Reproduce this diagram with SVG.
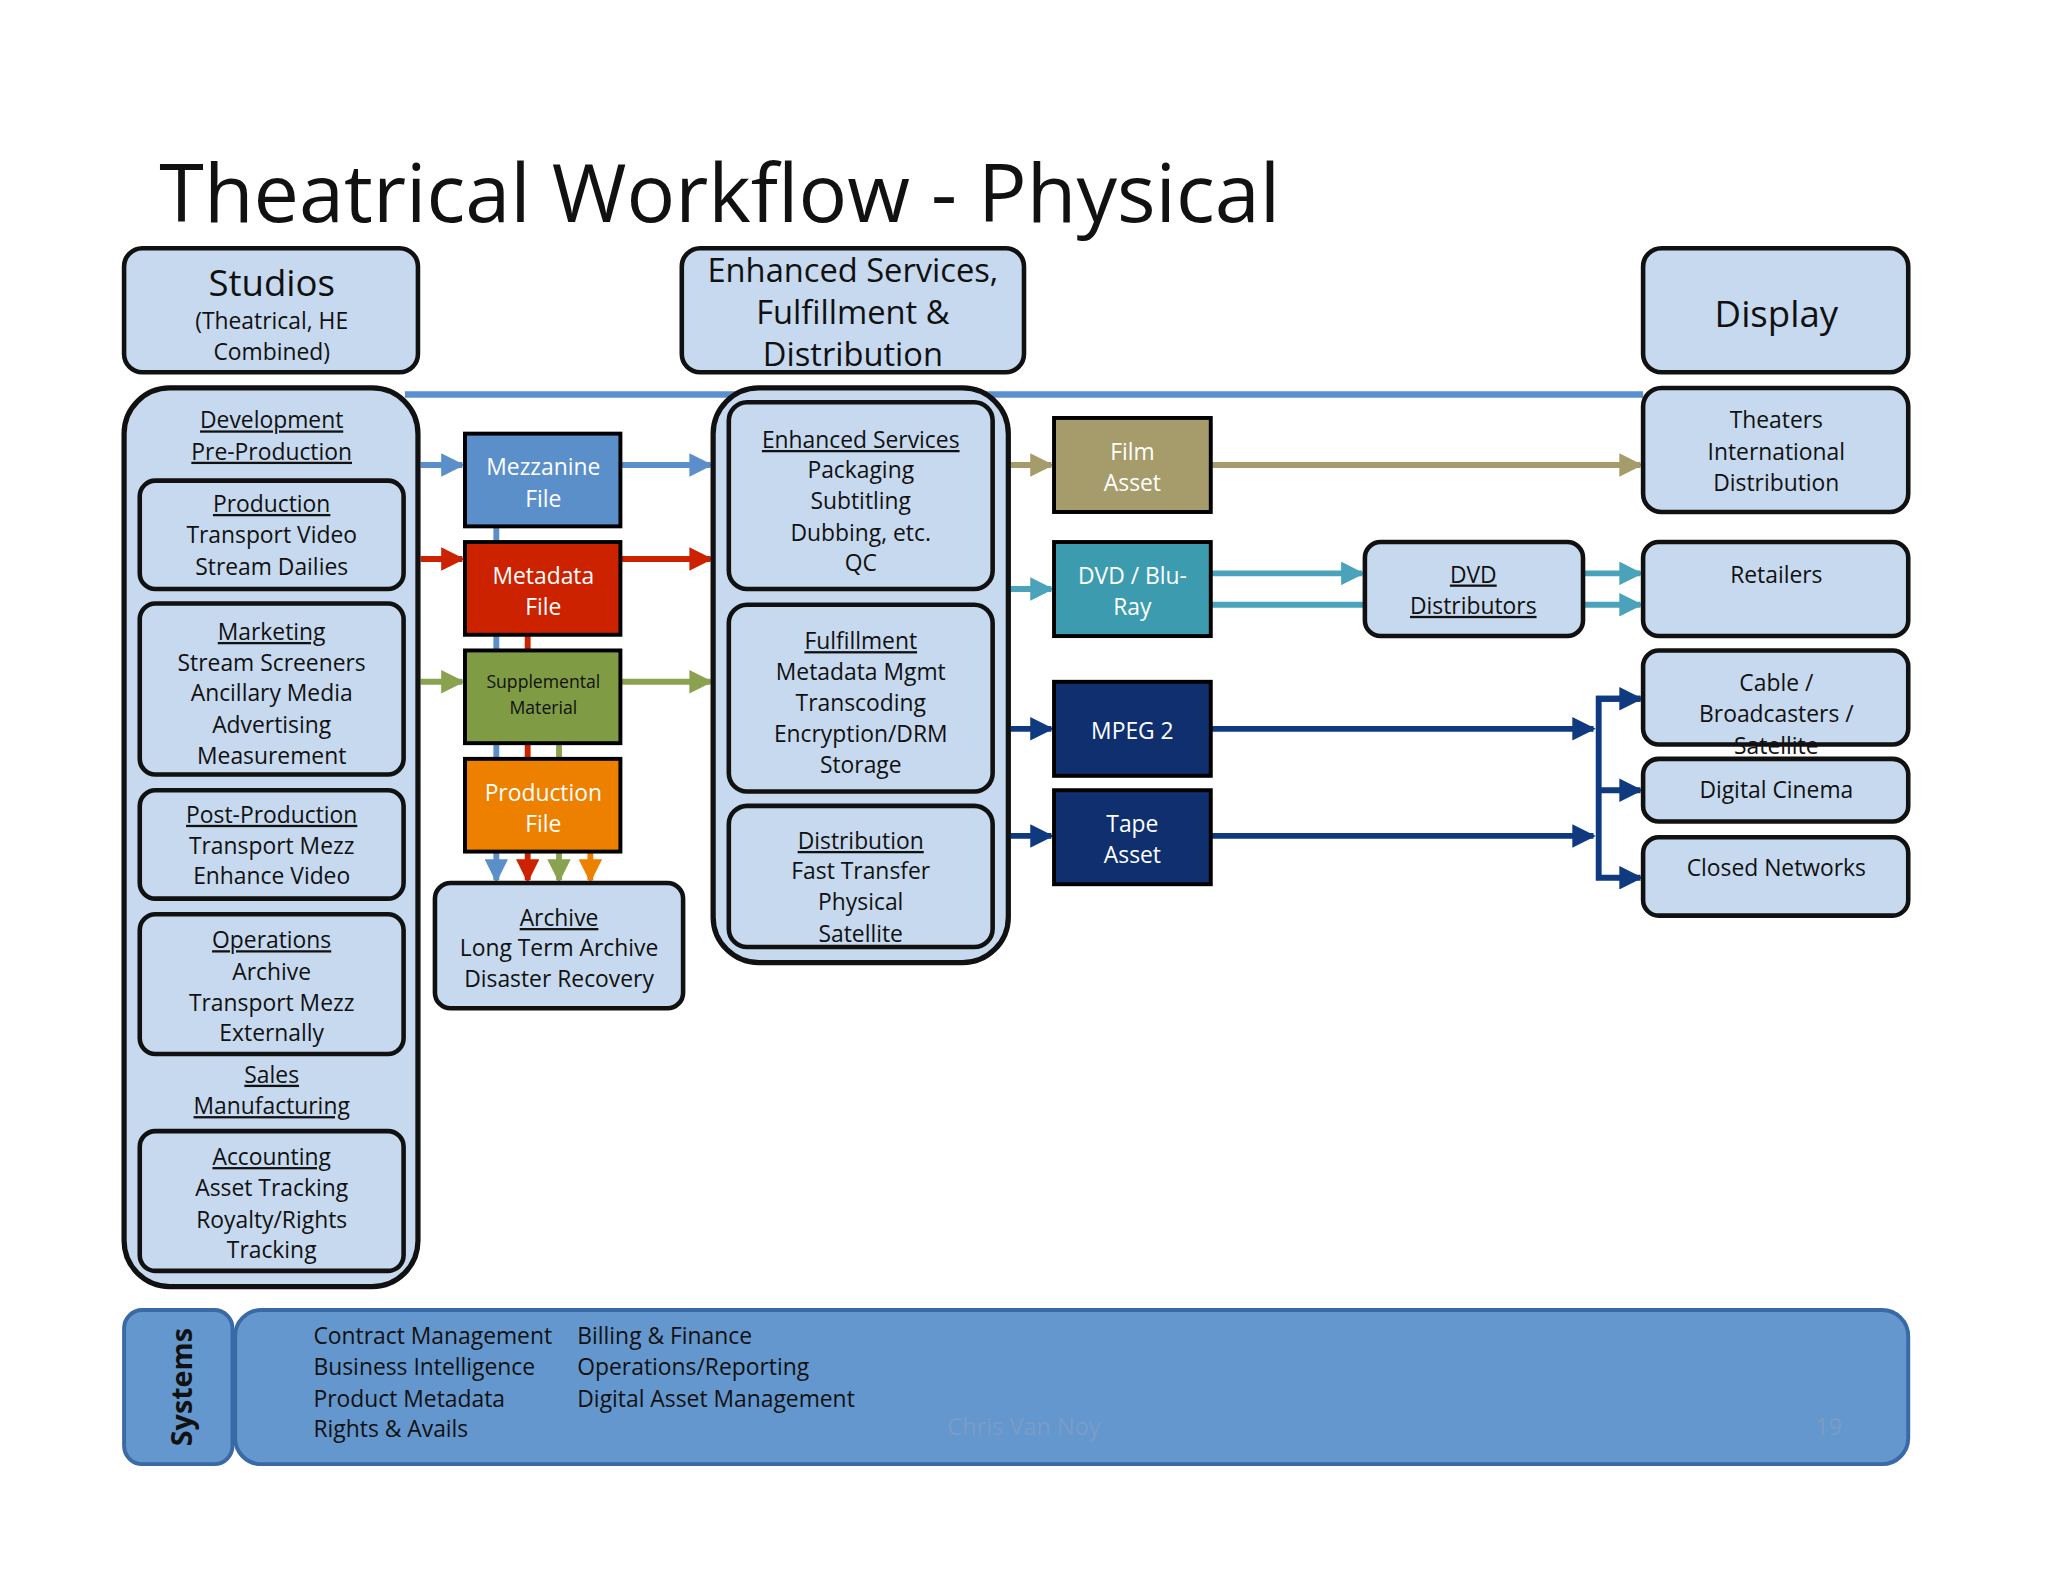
<svg xmlns="http://www.w3.org/2000/svg" width="2048" height="1582" viewBox="0 0 2048 1582">
<style>
text{font-family:"Open Sans","Noto Sans",sans-serif;fill:#111;text-anchor:middle}
.b{fill:#c6d9ee;stroke:#111;stroke-width:3.5}
.big{fill:#c6d9ee;stroke:#111;stroke-width:4}
.s{font-size:17.5px}
.u{text-decoration:underline}
.w{fill:#fff}
.c{stroke:#000;stroke-width:3}
.l{fill:none;stroke-width:4.5}
.sys{font-size:17.5px;text-anchor:start}
</style>
<defs>
<marker id="ab" viewBox="0 0 10 10" refX="9" refY="5" markerWidth="4" markerHeight="4" orient="auto"><path d="M0,0L10,5L0,10z" fill="#5b8fc9"/></marker>
<marker id="ar" viewBox="0 0 10 10" refX="9" refY="5" markerWidth="4" markerHeight="4" orient="auto"><path d="M0,0L10,5L0,10z" fill="#cc2200"/></marker>
<marker id="ag" viewBox="0 0 10 10" refX="9" refY="5" markerWidth="4" markerHeight="4" orient="auto"><path d="M0,0L10,5L0,10z" fill="#8aa24f"/></marker>
<marker id="ao" viewBox="0 0 10 10" refX="9" refY="5" markerWidth="4" markerHeight="4" orient="auto"><path d="M0,0L10,5L0,10z" fill="#ee8000"/></marker>
<marker id="ak" viewBox="0 0 10 10" refX="9" refY="5" markerWidth="4" markerHeight="4" orient="auto"><path d="M0,0L10,5L0,10z" fill="#a69b6a"/></marker>
<marker id="at" viewBox="0 0 10 10" refX="9" refY="5" markerWidth="4" markerHeight="4" orient="auto"><path d="M0,0L10,5L0,10z" fill="#4aa3bb"/></marker>
<marker id="an" viewBox="0 0 10 10" refX="9" refY="5" markerWidth="4" markerHeight="4" orient="auto"><path d="M0,0L10,5L0,10z" fill="#0f3a80"/></marker>
</defs>
<rect width="2048" height="1582" fill="#fff"/>
<g transform="scale(1.30612)">
<text x="122" y="170" font-size="62" style="text-anchor:start">Theatrical Workflow - Physical</text>

<g id="connectors">
<line x1="310" y1="302" x2="1258" y2="302" stroke="#5a8fd0" stroke-width="5"/>
<line x1="322" y1="356" x2="354" y2="356" class="l" stroke="#5b8fc9" marker-end="url(#ab)"/>
<line x1="322" y1="428" x2="354" y2="428" class="l" stroke="#cc2200" marker-end="url(#ar)"/>
<line x1="322" y1="522" x2="354" y2="522" class="l" stroke="#8aa24f" marker-end="url(#ag)"/>
<line x1="476" y1="356" x2="544" y2="356" class="l" stroke="#5b8fc9" marker-end="url(#ab)"/>
<line x1="476" y1="428" x2="544" y2="428" class="l" stroke="#cc2200" marker-end="url(#ar)"/>
<line x1="476" y1="522" x2="544" y2="522" class="l" stroke="#8aa24f" marker-end="url(#ag)"/>
<line x1="380" y1="403" x2="380" y2="674" class="l" stroke="#5b8fc9" marker-end="url(#ab)"/>
<line x1="404" y1="486" x2="404" y2="674" class="l" stroke="#cc2200" marker-end="url(#ar)"/>
<line x1="428" y1="569" x2="428" y2="674" class="l" stroke="#8aa24f" marker-end="url(#ag)"/>
<line x1="452" y1="652" x2="452" y2="674" class="l" stroke="#ee8000" marker-end="url(#ao)"/>
<line x1="774" y1="356" x2="805" y2="356" class="l" stroke="#a69b6a" marker-end="url(#ak)"/>
<line x1="774" y1="451" x2="805" y2="451" class="l" stroke="#4aa3bb" marker-end="url(#at)"/>
<line x1="774" y1="558" x2="805" y2="558" class="l" stroke="#0f3a80" marker-end="url(#an)"/>
<line x1="774" y1="640" x2="805" y2="640" class="l" stroke="#0f3a80" marker-end="url(#an)"/>
<line x1="928" y1="356" x2="1256" y2="356" class="l" stroke="#a69b6a" marker-end="url(#ak)"/>
<line x1="928" y1="439" x2="1043" y2="439" class="l" stroke="#4aa3bb" marker-end="url(#at)"/>
<line x1="928" y1="463" x2="1045" y2="463" class="l" stroke="#4aa3bb"/>
<line x1="1213" y1="439" x2="1256" y2="439" class="l" stroke="#4aa3bb" marker-end="url(#at)"/>
<line x1="1213" y1="463" x2="1256" y2="463" class="l" stroke="#4aa3bb" marker-end="url(#at)"/>
<line x1="928" y1="558" x2="1220" y2="558" class="l" stroke="#0f3a80" marker-end="url(#an)"/>
<line x1="928" y1="640" x2="1220" y2="640" class="l" stroke="#0f3a80" marker-end="url(#an)"/>
<polyline points="1256,535 1224,535 1224,672 1256,672" class="l" stroke="#0f3a80" marker-end="url(#an)"/>
<line x1="1222" y1="535" x2="1256" y2="535" class="l" stroke="#0f3a80" marker-end="url(#an)"/>
<line x1="1224" y1="605" x2="1256" y2="605" class="l" stroke="#0f3a80" marker-end="url(#an)"/>
</g>

<g id="studios"><rect x="95" y="190" width="225" height="95" rx="14" class="b"/>
<text x="208" y="227" font-size="28">Studios</text><text x="208" y="252" class="s">(Theatrical, HE</text><text x="208" y="276" class="s">Combined)</text></g>
<g id="enhanced-head"><rect x="522" y="190" width="262" height="95" rx="14" class="b"/>
<text x="653" y="216" font-size="25">Enhanced Services,</text><text x="653" y="248" font-size="25">Fulfillment &amp;</text><text x="653" y="280" font-size="25">Distribution</text></g>
<g id="display"><rect x="1258" y="190" width="203" height="95" rx="14" class="b"/>
<text x="1360" y="250" font-size="28">Display</text></g>

<g id="studios-list"><rect x="95" y="297" width="225" height="688" rx="35" class="big"/>
<text x="208" y="328" class="s u">Development</text><text x="208" y="352" class="s u">Pre-Production</text>
<rect x="107" y="368" width="202" height="83" rx="12" class="b"/>
<text x="208" y="392" class="s u">Production</text><text x="208" y="416" class="s">Transport Video</text><text x="208" y="440" class="s">Stream Dailies</text>
<rect x="107" y="462" width="202" height="131" rx="12" class="b"/>
<text x="208" y="490" class="s u">Marketing</text><text x="208" y="514" class="s">Stream Screeners</text><text x="208" y="537" class="s">Ancillary Media</text><text x="208" y="561" class="s">Advertising</text><text x="208" y="585" class="s">Measurement</text>
<rect x="107" y="605" width="202" height="83" rx="12" class="b"/>
<text x="208" y="630" class="s u">Post-Production</text><text x="208" y="654" class="s">Transport Mezz</text><text x="208" y="677" class="s">Enhance Video</text>
<rect x="107" y="700" width="202" height="107" rx="12" class="b"/>
<text x="208" y="726" class="s u">Operations</text><text x="208" y="750" class="s">Archive</text><text x="208" y="774" class="s">Transport Mezz</text><text x="208" y="797" class="s">Externally</text>
<text x="208" y="829" class="s u">Sales</text><text x="208" y="853" class="s u">Manufacturing</text>
<rect x="107" y="866" width="202" height="107" rx="12" class="b"/>
<text x="208" y="892" class="s u">Accounting</text><text x="208" y="916" class="s">Asset Tracking</text><text x="208" y="940" class="s">Royalty/Rights</text><text x="208" y="963" class="s">Tracking</text></g>

<g id="mezzanine"><rect x="356" y="332" width="119" height="71" fill="#5b8fc9" class="c"/><text x="416" y="364" class="s w">Mezzanine</text><text x="416" y="388" class="s w">File</text></g>
<g id="metadata"><rect x="356" y="415" width="119" height="71" fill="#cc2200" class="c"/><text x="416" y="447" class="s w">Metadata</text><text x="416" y="471" class="s w">File</text></g>
<g id="supplemental"><rect x="356" y="498" width="119" height="71" fill="#7f9b44" class="c"/><text x="416" y="527" font-size="13.5" fill="#eef3d8">Supplemental</text><text x="416" y="547" font-size="13.5" fill="#eef3d8">Material</text></g>
<g id="production-file"><rect x="356" y="581" width="119" height="71" fill="#ee8000" class="c"/><text x="416" y="613" class="s w">Production</text><text x="416" y="637" class="s w">File</text></g>
<g id="archive"><rect x="333" y="676" width="190" height="96" rx="12" class="b"/>
<text x="428" y="709" class="s u">Archive</text><text x="428" y="732" class="s">Long Term Archive</text><text x="428" y="756" class="s">Disaster Recovery</text></g>

<g id="services"><rect x="546" y="297" width="226" height="440" rx="35" class="big"/>
<rect x="558" y="308" width="202" height="143" rx="14" class="b"/>
<text x="659" y="343" class="s u">Enhanced Services</text><text x="659" y="366" class="s">Packaging</text><text x="659" y="390" class="s">Subtitling</text><text x="659" y="414" class="s">Dubbing, etc.</text><text x="659" y="437" class="s">QC</text>
<rect x="558" y="463" width="202" height="143" rx="14" class="b"/>
<text x="659" y="497" class="s u">Fulfillment</text><text x="659" y="521" class="s">Metadata Mgmt</text><text x="659" y="544" class="s">Transcoding</text><text x="659" y="568" class="s">Encryption/DRM</text><text x="659" y="592" class="s">Storage</text>
<rect x="558" y="617" width="202" height="108" rx="14" class="b"/>
<text x="659" y="650" class="s u">Distribution</text><text x="659" y="673" class="s">Fast Transfer</text><text x="659" y="697" class="s">Physical</text><text x="659" y="721" class="s">Satellite</text></g>

<g id="film"><rect x="807" y="320" width="120" height="72" fill="#a69b6a" class="c"/><text x="867" y="352" class="s w">Film</text><text x="867" y="376" class="s w">Asset</text></g>
<g id="dvd"><rect x="807" y="415" width="120" height="72" fill="#3d9bb0" class="c"/><text x="867" y="447" class="s w">DVD / Blu-</text><text x="867" y="471" class="s w">Ray</text></g>
<g id="mpeg"><rect x="807" y="522" width="120" height="72" fill="#0f2f6e" class="c"/><text x="867" y="566" class="s w">MPEG 2</text></g>
<g id="tape"><rect x="807" y="605" width="120" height="72" fill="#0f2f6e" class="c"/><text x="867" y="637" class="s w">Tape</text><text x="867" y="661" class="s w">Asset</text></g>
<g id="dvd-dist"><rect x="1045" y="415" width="167" height="72" rx="12" class="b"/><text x="1128" y="446" class="s u">DVD</text><text x="1128" y="470" class="s u">Distributors</text></g>

<g id="theaters"><rect x="1258" y="297" width="203" height="95" rx="14" class="b"/><text x="1360" y="328" class="s">Theaters</text><text x="1360" y="352" class="s">International</text><text x="1360" y="376" class="s">Distribution</text></g>
<g id="retailers"><rect x="1258" y="415" width="203" height="72" rx="12" class="b"/><text x="1360" y="446" class="s">Retailers</text></g>
<g id="cable"><rect x="1258" y="498" width="203" height="72" rx="12" class="b"/><text x="1360" y="529" class="s">Cable /</text><text x="1360" y="553" class="s">Broadcasters /</text><text x="1360" y="577" class="s">Satellite</text></g>
<g id="cinema"><rect x="1258" y="581" width="203" height="48" rx="12" class="b"/><text x="1360" y="611" class="s">Digital Cinema</text></g>
<g id="closed"><rect x="1258" y="641" width="203" height="60" rx="12" class="b"/><text x="1360" y="671" class="s">Closed Networks</text></g>

<g id="systems"><rect x="95" y="1003" width="83" height="118" rx="14" fill="#6497cd" stroke="#3a6aa5" stroke-width="3"/>
<text transform="translate(147,1062) rotate(-90)" font-size="22" font-weight="bold">Systems</text>
<rect x="180" y="1003" width="1281" height="118" rx="20" fill="#6497cd" stroke="#3a6aa5" stroke-width="3"/>
<text x="240" y="1029" class="sys">Contract Management</text><text x="240" y="1053" class="sys">Business Intelligence</text><text x="240" y="1077" class="sys">Product Metadata</text><text x="240" y="1100" class="sys">Rights &amp; Avails</text>
<text x="442" y="1029" class="sys">Billing &amp; Finance</text><text x="442" y="1053" class="sys">Operations/Reporting</text><text x="442" y="1077" class="sys">Digital Asset  Management</text>
<text x="784" y="1099" font-size="18" fill="#7a9cc8" style="fill:#7a9cc8">Chris Van Noy</text>
<text x="1400" y="1099" font-size="18" style="fill:#7a9cc8">19</text></g>
</g>
</svg>
